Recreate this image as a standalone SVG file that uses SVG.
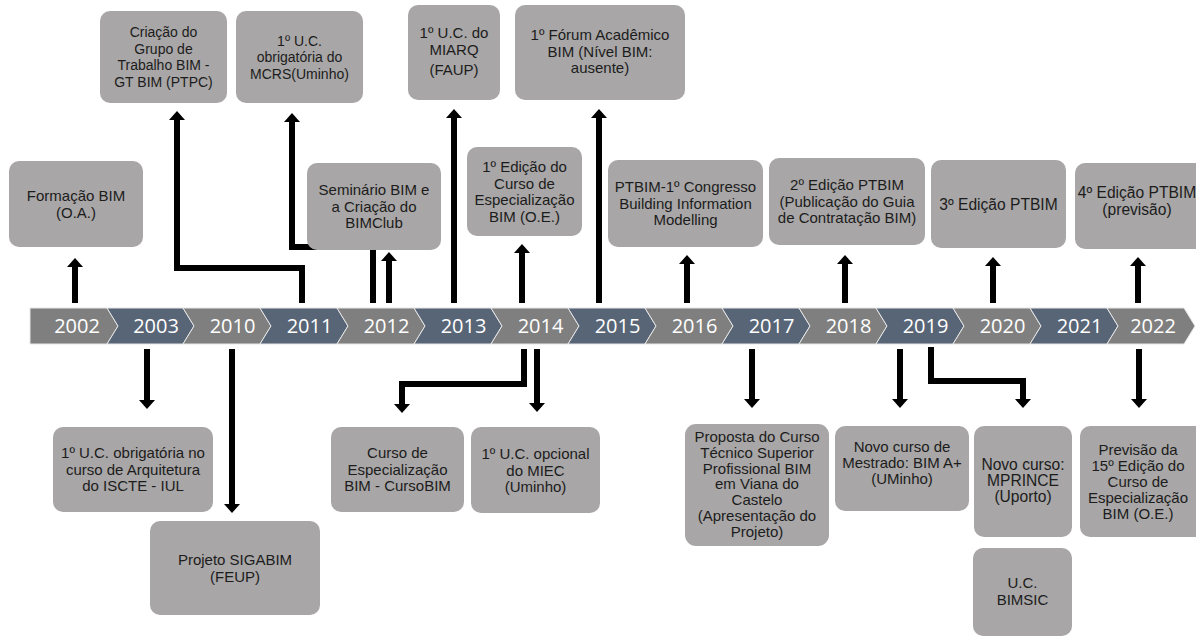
<svg xmlns="http://www.w3.org/2000/svg" width="1196" height="639" viewBox="0 0 1196 639">
  <style>
    .box { fill: #a8a6a6; }
    .lbl { font-family: "Liberation Sans", Arial, sans-serif; font-size: 15px; fill: #1c1c1c; text-anchor: middle; }
    .sm { font-size: 14px; }
    .lg { font-size: 15.6px; }
    .yr { font-family: "Open Sans", "DejaVu Sans", sans-serif; font-size: 20px; fill: #ffffff; text-anchor: middle; }
    .g { fill: #7f7f7f; stroke: #e6e6e6; stroke-width: 1; }
    .s { fill: #586577; stroke: #e6e6e6; stroke-width: 1; }
    .conn { fill: none; stroke: #000000; stroke-width: 6; stroke-linejoin: miter; marker-end: url(#head); }
  </style>
  <defs>
    <marker id="head" markerUnits="userSpaceOnUse" markerWidth="9" markerHeight="16" viewBox="0 0 9 16" refX="1" refY="8" orient="auto">
      <path d="M0,0 L9,8 L0,16 z" fill="#000000"/>
    </marker>
  </defs>
  <rect width="1196" height="639" fill="#ffffff"/>

  <!-- timeline chevrons -->
  <g id="timeline">
    <polygon class="g" points="30,308 107,308 118,326 107,344 30,344"/>
    <polygon class="s" points="107,308 183,308 194,326 183,344 107,344 118,326"/>
    <polygon class="g" points="183,308 260,308 271,326 260,344 183,344 194,326"/>
    <polygon class="s" points="260,308 337,308 348,326 337,344 260,344 271,326"/>
    <polygon class="g" points="337,308 414,308 425,326 414,344 337,344 348,326"/>
    <polygon class="s" points="414,308 491,308 502,326 491,344 414,344 425,326"/>
    <polygon class="g" points="491,308 568,308 579,326 568,344 491,344 502,326"/>
    <polygon class="s" points="568,308 645,308 656,326 645,344 568,344 579,326"/>
    <polygon class="g" points="645,308 722,308 733,326 722,344 645,344 656,326"/>
    <polygon class="s" points="722,308 799,308 810,326 799,344 722,344 733,326"/>
    <polygon class="g" points="799,308 876,308 887,326 876,344 799,344 810,326"/>
    <polygon class="s" points="876,308 953,308 964,326 953,344 876,344 887,326"/>
    <polygon class="g" points="953,308 1030,308 1041,326 1030,344 953,344 964,326"/>
    <polygon class="s" points="1030,308 1107,308 1118,326 1107,344 1030,344 1041,326"/>
    <polygon class="g" points="1107,308 1184,308 1195,326 1184,344 1107,344 1118,326"/>
    <text class="yr" x="77" y="333">2002</text>
    <text class="yr" x="156" y="333">2003</text>
    <text class="yr" x="232.5" y="333">2010</text>
    <text class="yr" x="309.5" y="333">2011</text>
    <text class="yr" x="386.5" y="333">2012</text>
    <text class="yr" x="463.5" y="333">2013</text>
    <text class="yr" x="540.5" y="333">2014</text>
    <text class="yr" x="617.5" y="333">2015</text>
    <text class="yr" x="694.5" y="333">2016</text>
    <text class="yr" x="771.5" y="333">2017</text>
    <text class="yr" x="848.5" y="333">2018</text>
    <text class="yr" x="925.5" y="333">2019</text>
    <text class="yr" x="1002.5" y="333">2020</text>
    <text class="yr" x="1079.5" y="333">2021</text>
    <text class="yr" x="1153" y="333">2022</text>
  </g>

  <!-- connectors -->
  <g id="connectors">
    <path class="conn" d="M75,303 V266"/>
    <path class="conn" d="M302,303 V268 H177 V119"/>
    <path class="conn" d="M373,303 V247 H292 V121"/>
    <path class="conn" d="M389,303 V260"/>
    <path class="conn" d="M454,303 V117"/>
    <path class="conn" d="M522,303 V252"/>
    <path class="conn" d="M599,303 V117"/>
    <path class="conn" d="M687,303 V263"/>
    <path class="conn" d="M845,303 V263"/>
    <path class="conn" d="M993,303 V265"/>
    <path class="conn" d="M1138,303 V265"/>
    <path class="conn" d="M147,349 V401"/>
    <path class="conn" d="M232,349 V505"/>
    <path class="conn" d="M524,349 V384 H402 V405"/>
    <path class="conn" d="M537,349 V404"/>
    <path class="conn" d="M752,349 V400"/>
    <path class="conn" d="M900,349 V400"/>
    <path class="conn" d="M931,347 V381 H1023 V400"/>
    <path class="conn" d="M1139,349 V400"/>
  </g>

  <!-- events above the timeline -->
  <g id="n-gtbim">
    <rect class="box" x="100" y="11" width="127" height="92" rx="10"/>
    <text class="lbl sm" y="37"><tspan x="163.5">Criação do</tspan><tspan x="163.5" dy="16.5">Grupo de</tspan><tspan x="163.5" dy="16.5">Trabalho BIM -</tspan><tspan x="163.5" dy="16.5">GT BIM (PTPC)</tspan></text>
  </g>
  <g id="n-mcrs">
    <rect class="box" x="236" y="11" width="127" height="92" rx="10"/>
    <text class="lbl sm" y="45.5"><tspan x="299.5">1º U.C.</tspan><tspan x="299.5" dy="16.5">obrigatória do</tspan><tspan x="299.5" dy="16.5">MCRS(Uminho)</tspan></text>
  </g>
  <g id="n-miarq">
    <rect class="box" x="408" y="5" width="92" height="95" rx="10"/>
    <text class="lbl" y="38"><tspan x="454">1º U.C. do</tspan><tspan x="454" dy="17">MIARQ</tspan><tspan x="454" dy="20">(FAUP)</tspan></text>
  </g>
  <g id="n-forum">
    <rect class="box" x="515" y="5" width="170" height="95" rx="10"/>
    <text class="lbl" y="40"><tspan x="600">1º Fórum Acadêmico</tspan><tspan x="600" dy="16.5">BIM (Nível BIM:</tspan><tspan x="600" dy="16.5">ausente)</tspan></text>
  </g>
  <g id="n-formacao">
    <rect class="box" x="9" y="161" width="134" height="86" rx="10"/>
    <text class="lbl" y="201"><tspan x="76">Formação BIM</tspan><tspan x="76" dy="16.5">(O.A.)</tspan></text>
  </g>
  <g id="n-seminario">
    <rect class="box" x="307" y="163" width="134" height="87" rx="10"/>
    <text class="lbl" y="195"><tspan x="374">Seminário BIM e</tspan><tspan x="374" dy="16.5">a Criação do</tspan><tspan x="374" dy="16.5">BIMClub</tspan></text>
  </g>
  <g id="n-edicao1">
    <rect class="box" x="467" y="147" width="115" height="89" rx="10"/>
    <text class="lbl" y="172"><tspan x="524.5">1º Edição do</tspan><tspan x="524.5" dy="16.5">Curso de</tspan><tspan x="524.5" dy="16.5">Especialização</tspan><tspan x="524.5" dy="16.5">BIM (O.E.)</tspan></text>
  </g>
  <g id="n-ptbim1">
    <rect class="box" x="608" y="160" width="155" height="87" rx="10"/>
    <text class="lbl" y="192"><tspan x="685.5">PTBIM-1º Congresso</tspan><tspan x="685.5" dy="16.5">Building Information</tspan><tspan x="685.5" dy="16.5">Modelling</tspan></text>
  </g>
  <g id="n-ptbim2">
    <rect class="box" x="769" y="158" width="156" height="87" rx="10"/>
    <text class="lbl" y="190"><tspan x="847">2º Edição PTBIM</tspan><tspan x="847" dy="16.5">(Publicação do Guia</tspan><tspan x="847" dy="16.5">de Contratação BIM)</tspan></text>
  </g>
  <g id="n-ptbim3">
    <rect class="box" x="931" y="160" width="135" height="88" rx="10"/>
    <text class="lbl lg" x="998.5" y="209.5">3º Edição PTBIM</text>
  </g>
  <g id="n-ptbim4">
    <rect class="box" x="1075" y="163" width="140" height="86" rx="10"/>
    <text class="lbl lg" y="198"><tspan x="1137">4º Edição PTBIM</tspan><tspan x="1137" dy="16.5">(previsão)</tspan></text>
  </g>

  <!-- events below the timeline -->
  <g id="n-iscte">
    <rect class="box" x="53" y="427" width="160" height="85" rx="10"/>
    <text class="lbl" y="458"><tspan x="133">1º U.C. obrigatória no</tspan><tspan x="133" dy="16.5">curso de Arquitetura</tspan><tspan x="133" dy="16.5">do ISCTE - IUL</tspan></text>
  </g>
  <g id="n-sigabim">
    <rect class="box" x="150" y="521" width="170" height="94" rx="10"/>
    <text class="lbl" y="565"><tspan x="235">Projeto SIGABIM</tspan><tspan x="235" dy="16.5">(FEUP)</tspan></text>
  </g>
  <g id="n-cursobim">
    <rect class="box" x="331" y="427" width="133" height="85" rx="10"/>
    <text class="lbl" y="458"><tspan x="397.5">Curso de</tspan><tspan x="397.5" dy="16.5">Especialização</tspan><tspan x="397.5" dy="16.5">BIM - CursoBIM</tspan></text>
  </g>
  <g id="n-miec">
    <rect class="box" x="471" y="427" width="129" height="86" rx="10"/>
    <text class="lbl" y="459"><tspan x="535.5">1º U.C. opcional</tspan><tspan x="535.5" dy="16.5">do MIEC</tspan><tspan x="535.5" dy="16.5">(Uminho)</tspan></text>
  </g>
  <g id="n-proposta">
    <rect class="box" x="685" y="424" width="144" height="122" rx="11"/>
    <text class="lbl" y="442"><tspan x="757">Proposta do Curso</tspan><tspan x="757" dy="15.8">Técnico Superior</tspan><tspan x="757" dy="15.8">Profissional BIM</tspan><tspan x="757" dy="15.8">em Viana do</tspan><tspan x="757" dy="15.8">Castelo</tspan><tspan x="757" dy="15.8">(Apresentação do</tspan><tspan x="757" dy="15.8">Projeto)</tspan></text>
  </g>
  <g id="n-mestrado">
    <rect class="box" x="835" y="426" width="134" height="85" rx="10"/>
    <text class="lbl" y="452"><tspan x="902">Novo curso de</tspan><tspan x="902" dy="16">Mestrado: BIM A+</tspan><tspan x="902" dy="16">(UMinho)</tspan></text>
  </g>
  <g id="n-mprince">
    <rect class="box" x="974" y="426" width="98" height="111" rx="10"/>
    <text class="lbl lg" y="470"><tspan x="1023">Novo curso:</tspan><tspan x="1023" dy="16">MPRINCE</tspan><tspan x="1023" dy="16">(Uporto)</tspan></text>
  </g>
  <g id="n-bimsic">
    <rect class="box" x="973" y="548" width="99" height="88" rx="10"/>
    <text class="lbl" y="588"><tspan x="1022.5">U.C.</tspan><tspan x="1022.5" dy="16.5">BIMSIC</tspan></text>
  </g>
  <g id="n-previsao">
    <rect class="box" x="1080" y="426" width="125" height="111" rx="10"/>
    <text class="lbl" y="454.5"><tspan x="1138">Previsão da</tspan><tspan x="1138" dy="16">15º Edição do</tspan><tspan x="1138" dy="16">Curso de</tspan><tspan x="1138" dy="16">Especialização</tspan><tspan x="1138" dy="16">BIM (O.E.)</tspan></text>
  </g>
</svg>
